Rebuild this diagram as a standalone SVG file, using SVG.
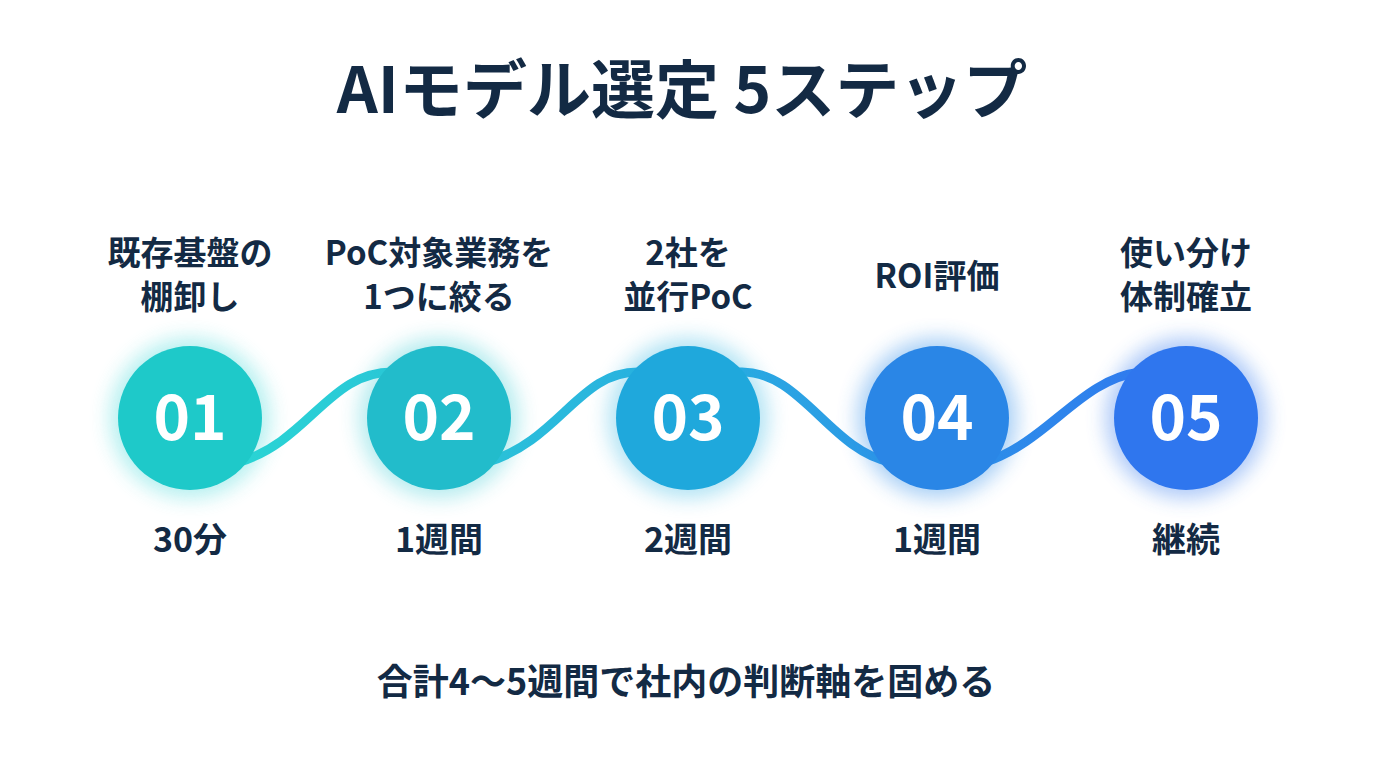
<svg xmlns="http://www.w3.org/2000/svg" width="1376" height="768" viewBox="0 0 1376 768">
<defs>
<style>
text{font-family:"Noto Sans CJK JP","Noto Sans",sans-serif;font-weight:bold;fill:#132a44;text-anchor:middle}
.lab{font-size:33px}
.dur{font-size:34px}
.num{font-size:62px;fill:#fff}
.wave{fill:none;stroke-width:9;stroke-linecap:round}
</style>
<filter id="glow" x="-50%" y="-50%" width="200%" height="200%"><feGaussianBlur stdDeviation="10"/></filter>
<linearGradient id="wg" x1="0" x2="1"><stop offset="0" stop-color="#2ad4d4"/><stop offset="0.5" stop-color="#2aaee0"/><stop offset="1" stop-color="#2f7cee"/></linearGradient>
</defs>
<rect width="1376" height="768" fill="#fff"/>
<text x="682" y="113" style="font-size:64px">AIモデル選定 5ステップ</text>
<g id="connectors">
<path class="wave" stroke="url(#wg)" d="M240,462 C310,440 330,370 395,372 M488,462 C560,440 580,370 640,372 M740,372 C800,370 830,450 890,462 M986,462 C1050,440 1080,380 1140,372"/>
</g>
<g id="n1"><circle cx="190" cy="418" r="80" fill="#2ad4d4" opacity="0.35" filter="url(#glow)"/><circle cx="190" cy="418" r="72" fill="#1ec9c9"/><text class="num" x="190" y="440">01</text>
<text class="lab" x="190" y="265">既存基盤の</text><text class="lab" x="190" y="309">棚卸し</text><text class="dur" x="190" y="552">30分</text></g>
<g id="n2"><circle cx="439" cy="418" r="80" fill="#2ac8d0" opacity="0.35" filter="url(#glow)"/><circle cx="439" cy="418" r="72" fill="#22bccb"/><text class="num" x="439" y="440">02</text>
<text class="lab" x="439" y="265">PoC対象業務を</text><text class="lab" x="439" y="309">1つに絞る</text><text class="dur" x="439" y="552">1週間</text></g>
<g id="n3"><circle cx="688" cy="418" r="80" fill="#22b0e0" opacity="0.35" filter="url(#glow)"/><circle cx="688" cy="418" r="72" fill="#1fa8dc"/><text class="num" x="688" y="440">03</text>
<text class="lab" x="688" y="265">2社を</text><text class="lab" x="688" y="309">並行PoC</text><text class="dur" x="688" y="552">2週間</text></g>
<g id="n4"><circle cx="937" cy="418" r="80" fill="#2a8ae8" opacity="0.4" filter="url(#glow)"/><circle cx="937" cy="418" r="72" fill="#2a86e6"/><text class="num" x="937" y="440">04</text>
<text class="lab" x="937" y="288">ROI評価</text><text class="dur" x="937" y="552">1週間</text></g>
<g id="n5"><circle cx="1186" cy="418" r="80" fill="#3078ee" opacity="0.4" filter="url(#glow)"/><circle cx="1186" cy="418" r="72" fill="#2f76ee"/><text class="num" x="1186" y="440">05</text>
<text class="lab" x="1186" y="265">使い分け</text><text class="lab" x="1186" y="309">体制確立</text><text class="dur" x="1186" y="552">継続</text></g>
<text x="686" y="695" style="font-size:36px">合計4〜5週間で社内の判断軸を固める</text>
</svg>
